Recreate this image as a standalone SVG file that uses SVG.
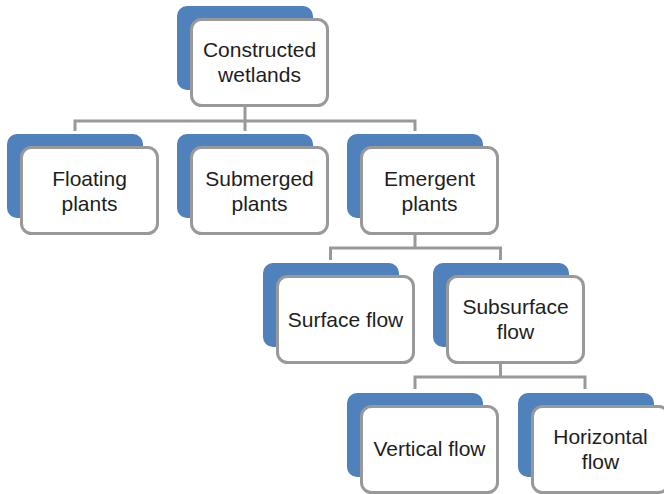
<svg xmlns="http://www.w3.org/2000/svg" width="664" height="494" viewBox="0 0 664 494">
<style>
.b{fill:#4f81bd}
.w{fill:#fff;stroke:#999;stroke-width:3}
.c{fill:none;stroke:#999;stroke-width:3}
text{font-family:"Liberation Sans",Arial,sans-serif;font-size:21px;fill:#1e1e1e;text-anchor:middle}
</style>
<rect width="664" height="494" fill="#fff"/>
<g id="connectors">
<path class="c" d="M245 107V121M75 131V121H415V131M245 121V131"/>
<path class="c" d="M415 235V248M330.5 260V248H500.5V260"/>
<path class="c" d="M500.5 364V377M415 389V377H585V389"/>
</g>
<g id="n-constructed"><rect class="b" x="177" y="6" width="136" height="84" rx="10"/><rect class="w" x="191.5" y="19.5" width="136" height="86" rx="10"/><text x="259.5" y="57">Constructed</text><text x="259.5" y="82">wetlands</text></g>
<g id="n-floating"><rect class="b" x="7" y="134" width="136" height="84" rx="10"/><rect class="w" x="21.5" y="147.5" width="136" height="86" rx="10"/><text x="89.5" y="186">Floating</text><text x="89.5" y="211">plants</text></g>
<g id="n-submerged"><rect class="b" x="177" y="134" width="136" height="84" rx="10"/><rect class="w" x="191.5" y="147.5" width="136" height="86" rx="10"/><text x="259.5" y="186">Submerged</text><text x="259.5" y="211">plants</text></g>
<g id="n-emergent"><rect class="b" x="347" y="134" width="136" height="84" rx="10"/><rect class="w" x="361.5" y="147.5" width="136" height="86" rx="10"/><text x="429.5" y="186">Emergent</text><text x="429.5" y="211">plants</text></g>
<g id="n-surface"><rect class="b" x="263" y="263" width="136" height="84" rx="10"/><rect class="w" x="277.5" y="276.5" width="136" height="86" rx="10"/><text x="345.5" y="327">Surface flow</text></g>
<g id="n-subsurface"><rect class="b" x="433" y="263" width="136" height="84" rx="10"/><rect class="w" x="447.5" y="276.5" width="136" height="86" rx="10"/><text x="515.5" y="314">Subsurface</text><text x="515.5" y="339">flow</text></g>
<g id="n-vertical"><rect class="b" x="347" y="393" width="136" height="84" rx="10"/><rect class="w" x="361.5" y="406.5" width="136" height="86" rx="10"/><text x="429.5" y="456">Vertical flow</text></g>
<g id="n-horizontal"><rect class="b" x="518" y="393" width="136" height="84" rx="10"/><rect class="w" x="532.5" y="406.5" width="136" height="86" rx="10"/><text x="600.5" y="444">Horizontal</text><text x="600.5" y="469">flow</text></g>
</svg>
